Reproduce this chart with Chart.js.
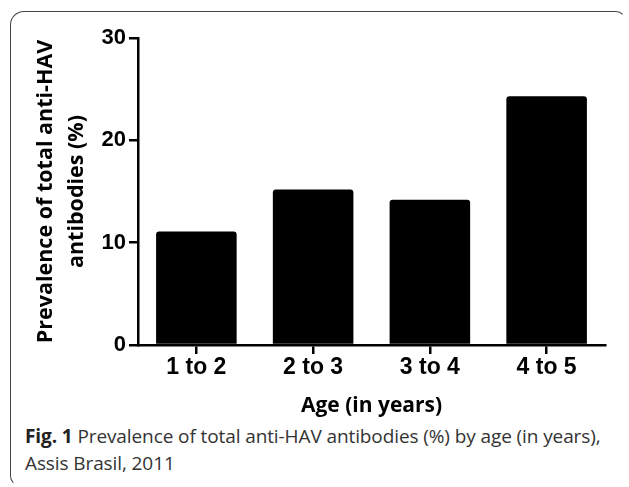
<!DOCTYPE html>
<html>
<head>
<meta charset="utf-8">
<script src="https://cdn.jsdelivr.net/npm/chart.js@4"></script>
<style>
  html, body { margin: 0; padding: 0; background: #fff; }
  #wrap { position: relative; width: 629px; height: 487px; overflow: hidden; }
  #frame {
    position: absolute; left: 10px; top: 11px; width: 616px; height: 475px;
    box-sizing: border-box;
    border: 1.5px solid transparent;
    border-top-color: #444; border-left-color: #444;
    border-radius: 14px 10px 0 10px;
  }
  #box { position: absolute; left: 0; top: 0; width: 629px; height: 420px; }
  #caption {
    position: absolute; left: 25px; top: 423px; width: 598px;
    font-family: "Open Sans", sans-serif; font-size: 19px; line-height: 27px; color: #333;
    letter-spacing: -0.1px;
  }
  #caption b { font-weight: 700; color: #222; }
</style>
</head>
<body>
<div id="wrap">
  <div id="frame"></div>
  <div id="box"><canvas id="grafico"></canvas></div>
  <div id="caption"><b>Fig. 1</b> Prevalence of total anti-HAV antibodies (%) by age (in years), Assis Brasil, 2011</div>
</div>
<script>
// Datos
const edades = ["1 to 2", "2 to 3", "3 to 4", "4 to 5"];
const prevalencia = [11.1, 15.2, 14.2, 24.3];
const ticksY = [0, 10, 20, 30];

const ctx = document.getElementById("grafico").getContext("2d");
new Chart(ctx, {
  type: "bar",
  data: {
    labels: edades,
    datasets: [{
      data: prevalencia,
      backgroundColor: "#000",
      borderRadius: 3,
      barPercentage: 0.69,
      categoryPercentage: 1,
    }],
  },
  options: {
    responsive: true,
    maintainAspectRatio: false,
    animation: false,
    layout: { padding: { top: 38, right: 24, left: 0, bottom: 0 } },
    plugins: { legend: { display: false }, tooltip: { enabled: false } },
    scales: {
      x: {
        afterFit: (s) => { s.height = 75; },
        grid: { drawOnChartArea: false, offset: false, color: "#000", lineWidth: 2.5, tickLength: 9 },
        border: { display: true, color: "#000", width: 2.5 },
        ticks: { color: "#000", padding: 0, font: { family: "Liberation Sans", weight: "bold", size: 23 } },
        title: {
          display: true,
          text: "Age (in years)",
          color: "#000",
          padding: { top: 0, bottom: 1 },
          font: { family: "Open Sans", weight: "bold", size: 21, lineHeight: 1.2 },
        },
      },
      y: {
        min: 0,
        max: 30,
        afterFit: (s) => { s.width = 138; },
        afterBuildTicks: (s) => { s.ticks = ticksY.map((v) => ({ value: v })); },
        grid: { drawOnChartArea: false, color: "#000", lineWidth: 2.5, tickLength: 9 },
        border: { display: true, color: "#000", width: 2.5 },
        ticks: { color: "#000", padding: 3, font: { family: "Liberation Sans", weight: "bold", size: 22 } },
        title: {
          display: true,
          text: ["Prevalence of total anti-HAV", "antibodies (%)"],
          color: "#000",
          padding: { top: 30, bottom: 0 },
          font: { family: "Open Sans", weight: "bold", size: 21.5, lineHeight: 1.45 },
        },
      },
    },
  },
});
</script>
</body>
</html>
